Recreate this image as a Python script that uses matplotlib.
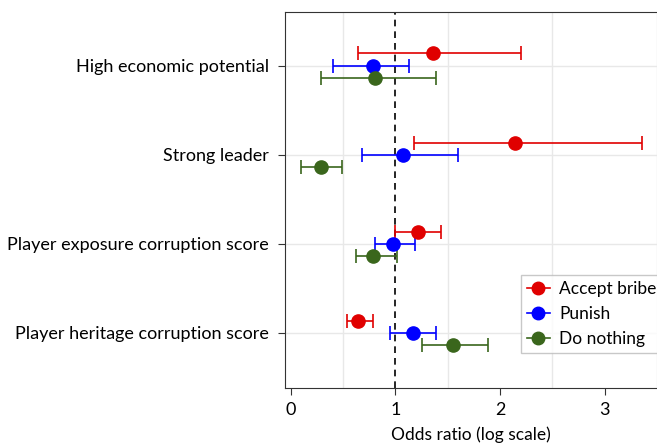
import numpy as np
import matplotlib.pyplot as plt
from matplotlib.lines import Line2D

plt.rcParams['font.family'] = ['Lato', 'DejaVu Sans']

categories = ['High economic potential', 'Strong leader',
              'Player exposure corruption score', 'Player heritage corruption score']
series = ['Accept bribe', 'Punish', 'Do nothing']
colors = ['#e00000', '#0000ff', '#3a661c']

# odds ratio, lower CI, upper CI per category (top to bottom)
accept = [1.36, 2.14, 1.215, 0.64]
accept_lo = [0.644, 1.18, 1.00, 0.536]
accept_hi = [2.20, 3.36, 1.44, 0.79]

punish = [0.79, 1.075, 0.98, 1.165]
punish_lo = [0.405, 0.68, 0.807, 0.95]
punish_hi = [1.135, 1.60, 1.19, 1.39]

nothing = [0.81, 0.287, 0.79, 1.547]
nothing_lo = [0.287, 0.096, 0.628, 1.25]
nothing_hi = [1.39, 0.494, 1.017, 1.885]

est = [accept, punish, nothing]
lo = [accept_lo, punish_lo, nothing_lo]
hi = [accept_hi, punish_hi, nothing_hi]

fig = plt.figure(figsize=(6.57, 4.47), dpi=100)
ax = fig.add_axes([0.4345, 0.132, 0.5655, 0.841])

ypos = np.arange(len(categories))[::-1] + 1.0
offsets = [0.135, 0.0, -0.135]

for i in range(3):
    e = np.array(est[i])
    l = np.array(lo[i])
    h = np.array(hi[i])
    ax.errorbar(e, ypos + offsets[i], xerr=[e - l, h - e], fmt='o',
                color=colors[i], ecolor=colors[i], markersize=9.5,
                elinewidth=1.2, capsize=5, capthick=1.2, zorder=3)

ax.axvline(1, color='black', linestyle=(0, (4, 3)), linewidth=1.2, zorder=2)

ax.set_xlim(-0.05, 3.5)
ax.set_ylim(0.38, 4.6)
ax.set_xticks([0, 1, 2, 3])
ax.set_xticks(np.arange(0, 3.6, 0.5), minor=True)
ax.tick_params(axis='x', which='minor', length=0)
ax.set_yticks(ypos)
ax.set_yticklabels(categories)
ax.tick_params(axis='both', labelsize=13, length=5, color='#333333')
ax.tick_params(axis='y', pad=7)
ax.tick_params(axis='x', pad=5)
ax.grid(True, which='minor', axis='x', color='#e8e8e8', linewidth=1)
ax.grid(True, which='major', axis='y', color='#e8e8e8', linewidth=1)
ax.set_axisbelow(True)
ax.spines['right'].set_visible(False)
for s in ['left', 'top', 'bottom']:
    ax.spines[s].set_color('#333333')
ax.set_xlabel('Odds ratio (log scale)', fontsize=12.5, labelpad=6)

handles = [Line2D([], [], color=c, marker='o', markersize=9, linewidth=1.2)
           for c in colors]
leg = ax.legend(handles, series, loc='upper left', bbox_to_anchor=(0.634, 0.30),
                fontsize=12.5, frameon=True, fancybox=False, edgecolor='#bbbbbb',
                handlelength=1.3, borderpad=0.35, labelspacing=0.5,
                handletextpad=0.55, borderaxespad=0)
leg.get_frame().set_linewidth(1)

fig.savefig('out.png', dpi=100)
